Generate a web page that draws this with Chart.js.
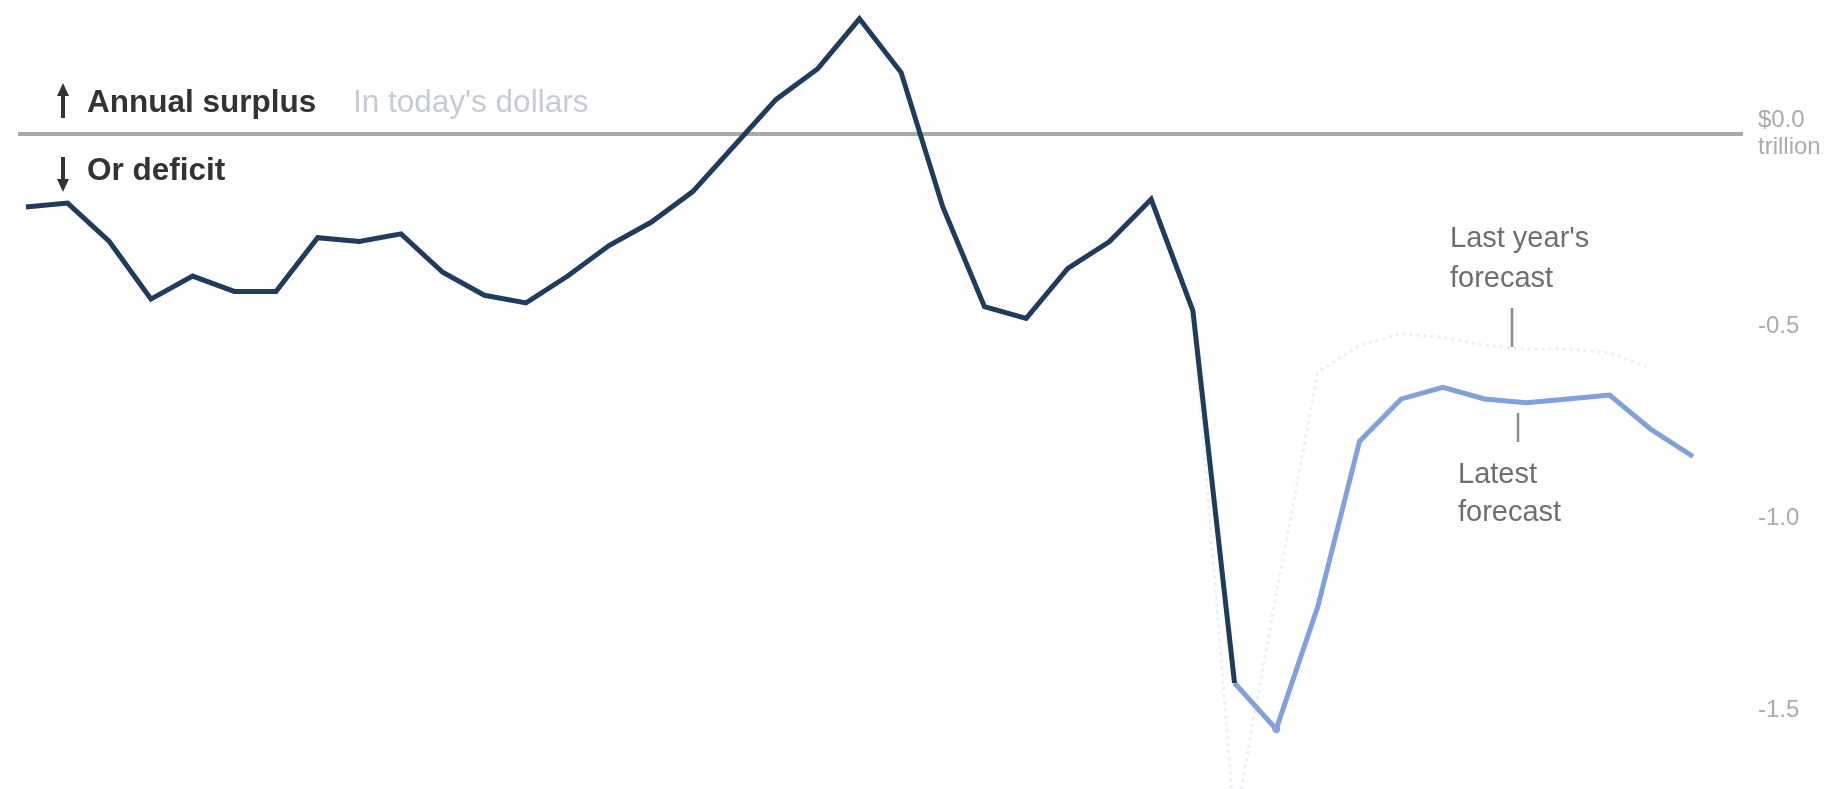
<!DOCTYPE html>
<html>
<head>
<meta charset="utf-8">
<script src="https://cdn.jsdelivr.net/npm/chart.js@4.4.1/dist/chart.umd.min.js"></script>
<style>
  html, body { margin: 0; padding: 0; background: #ffffff; }
  #wrap { width: 1847px; height: 789px; }
</style>
</head>
<body>
<div id="wrap"><canvas id="grafico" width="1847" height="789"></canvas></div>
<script>
// -------------------------
// Dados (trilhões, dólares de hoje)
// -------------------------
const anosReal = [1980, 1981, 1982, 1983, 1984, 1985, 1986, 1987, 1988, 1989,
                  1990, 1991, 1992, 1993, 1994, 1995, 1996, 1997, 1998, 1999,
                  2000, 2001, 2002, 2003, 2004, 2005, 2006, 2007, 2008, 2009];
const valoresReal = [-0.19, -0.18, -0.28, -0.43, -0.37, -0.41, -0.41, -0.27, -0.28, -0.26,
                     -0.36, -0.42, -0.44, -0.37, -0.29, -0.23, -0.15, -0.03, 0.09, 0.17,
                     0.30, 0.16, -0.19, -0.45, -0.48, -0.35, -0.28, -0.17, -0.46, -1.43];

const anosPrevisao = [2009, 2010, 2011, 2012, 2013, 2014, 2015, 2016, 2017, 2018, 2019, 2020];
const valoresPrevisao = [-1.43, -1.55, -1.23, -0.80, -0.69, -0.66, -0.69, -0.70, -0.69, -0.68, -0.77, -0.84];

const anosAnoPassado = [2008, 2009, 2010, 2011, 2012, 2013, 2014, 2015, 2016, 2017, 2018, 2019];
const valoresAnoPassado = [-0.46, -1.80, -1.20, -0.62, -0.55, -0.52, -0.53, -0.55, -0.56, -0.56, -0.57, -0.61];

const ticksY = [0, -0.5, -1.0, -1.5];

const FONTE = "'Liberation Sans', Arial, Helvetica, sans-serif";

function pontos(anos, valores) {
  return anos.map((a, i) => ({ x: a, y: valores[i] }));
}

// -------------------------
// Textos e setas
// -------------------------
const anotacoes = {
  id: "anotacoes",
  afterDraw(chart) {
    const ctx = chart.ctx;
    ctx.save();

    // setas
    ctx.fillStyle = "#333333";
    ctx.strokeStyle = "#333333";
    ctx.lineWidth = 4;
    ctx.beginPath(); ctx.moveTo(63, 118); ctx.lineTo(63, 92); ctx.stroke();
    ctx.beginPath(); ctx.moveTo(57, 96); ctx.lineTo(63, 83); ctx.lineTo(69, 96); ctx.closePath(); ctx.fill();
    ctx.beginPath(); ctx.moveTo(63, 157); ctx.lineTo(63, 183); ctx.stroke();
    ctx.beginPath(); ctx.moveTo(57, 179); ctx.lineTo(63, 192); ctx.lineTo(69, 179); ctx.closePath(); ctx.fill();

    ctx.textAlign = "left";
    ctx.textBaseline = "alphabetic";
    ctx.font = "bold 31.5px " + FONTE;
    ctx.fillText("Annual surplus", 87, 112);
    ctx.fillText("Or deficit", 87, 180);

    ctx.font = "31.5px " + FONTE;
    ctx.fillStyle = "#c6cbd4";
    ctx.fillText("In today's dollars", 353, 112);

    // rótulos das previsões
    ctx.fillStyle = "#6f6f6f";
    ctx.font = "29px " + FONTE;
    ctx.fillText("Last year's", 1450, 247);
    ctx.fillText("forecast", 1450, 287);
    ctx.fillText("Latest", 1458, 483);
    ctx.fillText("forecast", 1458, 521);

    ctx.strokeStyle = "#8c8c8c";
    ctx.lineWidth = 2.5;
    ctx.beginPath(); ctx.moveTo(1512, 308); ctx.lineTo(1512, 347); ctx.stroke();
    ctx.beginPath(); ctx.moveTo(1518, 413); ctx.lineTo(1518, 442); ctx.stroke();

    ctx.restore();
  }
};

const ctx = document.getElementById("grafico").getContext("2d");

new Chart(ctx, {
  type: "line",
  data: {
    datasets: [
      {
        label: "Actual",
        data: pontos(anosReal, valoresReal),
        borderColor: "#1f3c5e",
        borderWidth: 5,
        pointRadius: 0,
        tension: 0,
        order: 1
      },
      {
        label: "Latest forecast",
        data: pontos(anosPrevisao, valoresPrevisao),
        borderColor: "#80a1dc",
        borderWidth: 5,
        pointRadius: valoresPrevisao.map(v => v === Math.min(...valoresPrevisao) ? 4 : 0),
        pointBackgroundColor: "#8aa4e0",
        pointBorderWidth: 0,
        tension: 0,
        order: 2
      },
      {
        label: "Last year's forecast",
        data: pontos(anosAnoPassado, valoresAnoPassado),
        borderColor: "rgba(180, 200, 238, 0.3)",
        borderWidth: 3,
        borderDash: [3, 4],
        pointRadius: 0,
        tension: 0,
        order: 3
      }
    ]
  },
  options: {
    responsive: false,
    animation: false,
    devicePixelRatio: 1,
    layout: { padding: { left: 18, right: 0, top: 0, bottom: 0 } },
    plugins: {
      legend: { display: false },
      tooltip: { enabled: false }
    },
    scales: {
      x: {
        type: "linear",
        display: false,
        min: 1979.81,
        max: 2021.2
      },
      y: {
        position: "right",
        min: -1.706,
        max: 0.349,
        afterBuildTicks: (scale) => {
          scale.ticks = ticksY.map(v => ({ value: v }));
        },
        afterFit: (scale) => {
          scale.width = 104;
          scale.paddingTop = 0;
          scale.paddingBottom = 0;
        },
        border: { display: false },
        grid: {
          drawTicks: false,
          lineWidth: 4,
          color: (c) => (c.tick && c.tick.value === 0 ? "#a8aaaf" : "rgba(0,0,0,0)")
        },
        ticks: {
          padding: 15,
          color: "#ababab",
          font: { family: FONTE, size: 24, lineHeight: 1.15 },
          callback: (v) => (v === 0 ? ["$0.0", "trillion"] : v.toFixed(1))
        }
      }
    }
  },
  plugins: [anotacoes]
});
</script>
</body>
</html>
